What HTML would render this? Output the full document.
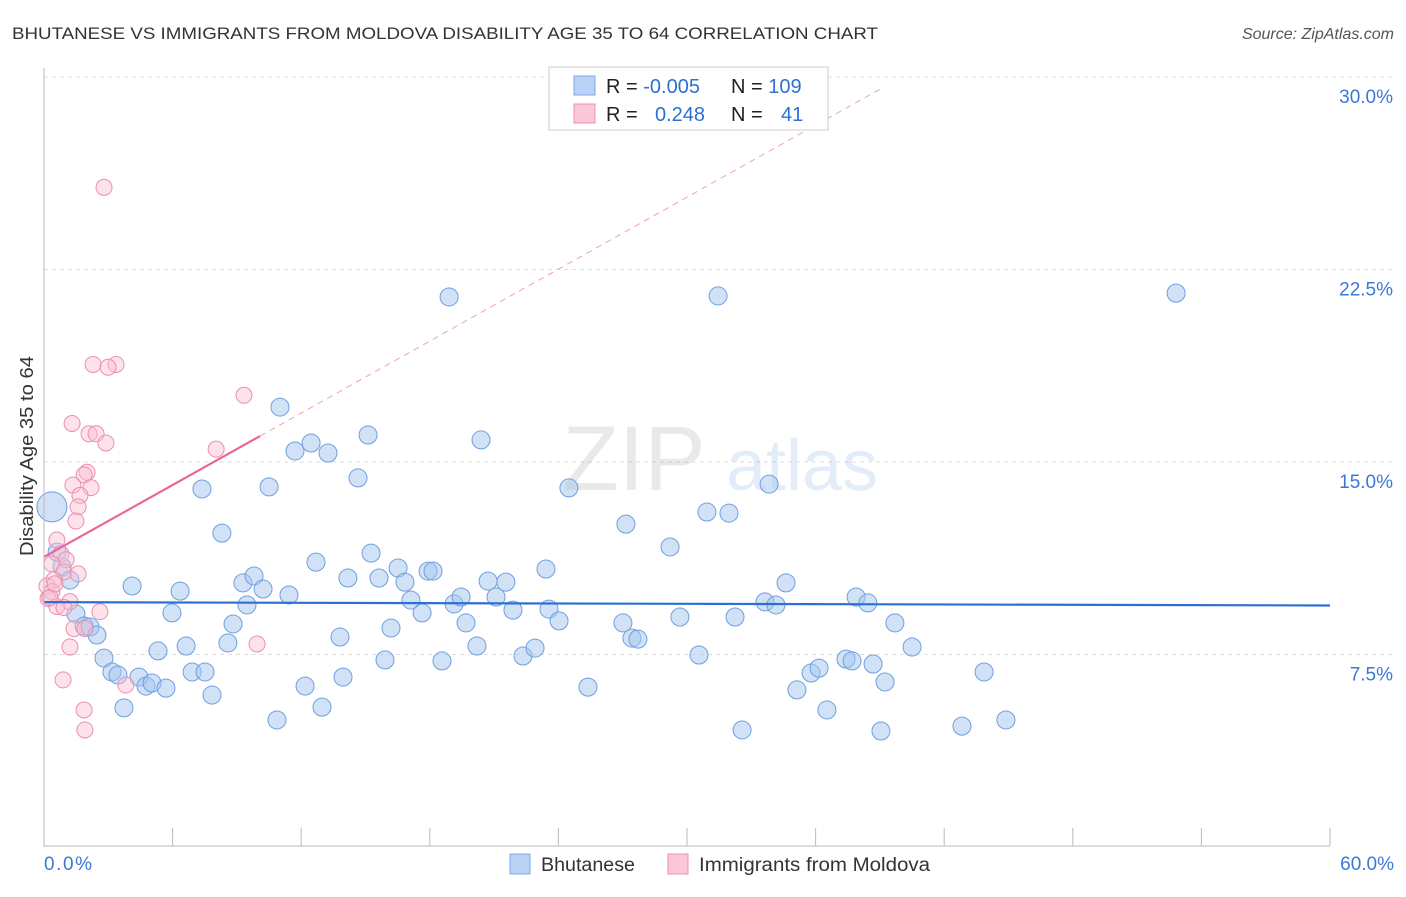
<!DOCTYPE html>
<html><head><meta charset="utf-8">
<style>
body{margin:0;background:#fff;font-family:"Liberation Sans",sans-serif;}
svg text{font-family:"Liberation Sans",sans-serif;}
</style></head>
<body>
<svg id="chart" width="1406" height="892" viewBox="0 0 1406 892" xmlns="http://www.w3.org/2000/svg">
<text x="12" y="39" font-size="17" fill="#333" textLength="866" lengthAdjust="spacingAndGlyphs">BHUTANESE VS IMMIGRANTS FROM MOLDOVA DISABILITY AGE 35 TO 64 CORRELATION CHART</text>
<text x="1394" y="39" font-size="16" fill="#555" font-style="italic" text-anchor="end">Source: ZipAtlas.com</text>
<g id="grid"></g>
<g opacity="0.18">
<text x="634" y="490" font-size="92" fill="#888" font-family="Liberation Serif" text-anchor="middle">ZIP</text>
<text x="802" y="490" font-size="72" fill="#6b9be0" text-anchor="middle">atlas</text>
</g>
<g id="marks"></g>
<g id="axes"></g>
<text transform="translate(33,456) rotate(-90)" font-size="18" fill="#333" text-anchor="middle" textLength="200" lengthAdjust="spacingAndGlyphs">Disability Age 35 to 64</text>
<g>
<rect x="549" y="67" width="279" height="63" fill="#fff" stroke="#ccc"/>
<rect x="574" y="76" width="21" height="19" fill="#b8d3f5" stroke="#7aaae8"/>
<rect x="574" y="104" width="21" height="19" fill="#fbc6d6" stroke="#ee92b0"/>
<text x="606" y="93" font-size="20" fill="#222">R = <tspan fill="#2f6fd1">-0.005</tspan><tspan x="731">N = </tspan><tspan fill="#2f6fd1">109</tspan></text>
<text x="606" y="121" font-size="20" fill="#222">R = <tspan x="655" fill="#2f6fd1">0.248</tspan><tspan x="731">N = </tspan><tspan x="781" fill="#2f6fd1">41</tspan></text>
</g>
<g>
<rect x="510" y="854" width="20" height="20" fill="#b8d3f5" stroke="#7aaae8"/>
<text x="541" y="871" font-size="19" fill="#333" textLength="94" lengthAdjust="spacingAndGlyphs">Bhutanese</text>
<rect x="668" y="854" width="20" height="20" fill="#fbc6d6" stroke="#ee92b0"/>
<text x="699" y="871" font-size="19" fill="#333" textLength="231" lengthAdjust="spacingAndGlyphs">Immigrants from Moldova</text>
</g>
</svg>
<script>
const xTicks=[6,12,18,24,30,36,42,48,54,60];
const yTicks=[7.5,15,22.5,30];
const yTickLabels=["7.5%","15.0%","22.5%","30.0%"];
const blueX=[0.37,0.61,0.84,1.21,1.49,1.87,2.15,2.47,2.80,3.17,3.45,3.73,4.11,4.43,4.76,5.04,5.32,5.69,5.97,6.35,6.63,6.91,7.37,7.51,7.84,8.30,8.58,8.82,9.28,9.47,9.80,10.22,10.50,10.87,11.01,11.43,11.71,12.18,12.46,12.69,12.97,13.25,13.81,13.95,14.18,14.65,15.12,15.26,15.63,15.91,16.19,16.52,16.84,17.12,17.64,17.92,18.15,18.57,18.90,19.13,19.46,19.69,20.20,20.39,20.72,21.09,21.55,21.88,22.35,22.91,23.42,23.56,24.03,24.49,25.38,27.01,27.15,27.43,27.71,29.21,29.67,30.56,30.93,31.45,31.96,32.24,32.57,33.64,33.83,34.15,34.62,35.13,35.79,36.16,36.53,37.42,37.70,37.89,38.44,38.68,39.05,39.24,39.70,40.50,42.83,43.86,44.88,52.82];
const blueY=[13.25,11.49,10.91,10.40,9.08,8.61,8.57,8.26,7.36,6.82,6.70,5.42,10.17,6.62,6.27,6.39,7.64,6.19,9.12,9.97,7.83,6.82,13.95,6.82,5.92,12.23,7.95,8.69,10.29,9.43,10.56,10.05,14.03,4.95,17.14,9.82,15.43,6.27,15.74,11.10,5.45,15.35,8.18,6.62,10.48,14.38,16.05,11.45,10.48,7.29,8.53,10.87,10.32,9.62,9.12,10.75,10.75,7.25,21.43,9.47,9.74,8.73,7.83,15.86,10.36,9.74,10.32,9.23,7.44,7.75,10.83,9.27,8.81,13.99,6.23,8.73,12.58,8.14,8.10,11.69,8.96,7.48,13.05,21.47,13.01,8.96,4.56,9.55,14.14,9.43,10.29,6.12,6.78,6.97,5.34,7.32,7.25,9.74,9.51,7.13,4.52,6.43,8.73,7.79,4.71,6.82,4.95,21.58];
const pinkX=[2.8,2.29,3.36,2.99,9.33,1.31,2.1,2.43,2.89,8.03,2.01,1.87,1.35,2.19,1.68,1.59,1.49,0.6,0.79,1.03,0.37,0.93,1.59,0.47,0.14,0.37,0.19,0.6,1.21,0.93,2.61,1.4,1.91,1.21,9.94,0.89,3.82,1.87,1.91,0.28,0.51];
const pinkY=[25.7,18.8,18.8,18.69,17.6,16.5,16.1,16.1,15.74,15.5,14.6,14.5,14.1,14.0,13.7,13.25,12.7,11.96,11.42,11.19,11.03,10.72,10.64,10.41,10.17,9.95,9.68,9.37,9.56,9.33,9.17,8.51,8.51,7.79,7.91,6.51,6.31,5.34,4.56,9.72,10.25];
const blueTrend=[9.54,9.41];
const pinkTrend=[11.3,16.01];
const pinkTrendEnd=[10.08];
const X0=44,X1=1330,Y0=847;
const sx=v=>X0+(X1-X0)*v/60;
const sy=v=>Y0-v*192.5/7.5;
const NS="http://www.w3.org/2000/svg";
function mk(parent,tag,attrs){const e=document.createElementNS(NS,tag);for(const k in attrs)e.setAttribute(k,attrs[k]);parent.appendChild(e);return e;}
const grid=document.getElementById('grid'),marks=document.getElementById('marks'),axes=document.getElementById('axes');
yTicks.forEach((t,i)=>{
 const l=mk(grid,'line',{x1:X0,x2:1395,y1:sy(t),y2:sy(t),stroke:'#ddd','stroke-dasharray':'4,4'});
 
 
 const tx=mk(axes,'text',{x:1393,y:sy(t)+26,'font-size':19,fill:'#3b78d8','text-anchor':'end'});
 tx.textContent=yTickLabels[i];
 
 
});
const ax=mk(axes,'line',{x1:X0,x2:X0,y1:68,y2:847,stroke:'#bbb'});


const bx=mk(axes,'line',{x1:X0,x2:X1,y1:846,y2:846,stroke:'#bbb'});


xTicks.forEach(t=>{
 const l=mk(axes,'line',{x1:sx(t),x2:sx(t),y1:828,y2:846,stroke:'#bbb'});
 
 
});
const xl0=mk(axes,'text',{x:44,y:870,'font-size':19,fill:'#3b78d8',textLength:48});xl0.textContent='0.0%';


const xl1=mk(axes,'text',{x:1394,y:870,'font-size':19,fill:'#3b78d8','text-anchor':'end'});xl1.textContent='60.0%';


blueX.forEach((v,i)=>{
 const c=mk(marks,'circle',{cx:sx(v),cy:sy(blueY[i]),r:i===0?15:9,fill:'rgba(164,198,240,0.5)',stroke:'#6e9fe0','stroke-width':1});
 
 
});
pinkX.forEach((v,i)=>{
 const c=mk(marks,'circle',{cx:sx(v),cy:sy(pinkY[i]),r:8,fill:'rgba(250,190,210,0.45)',stroke:'#ec8fae','stroke-width':1});
 
 
});
const slope=(pinkTrend[1]-pinkTrend[0])/pinkTrendEnd[0];
const pd=mk(marks,'line',{x1:sx(pinkTrendEnd[0]),y1:sy(pinkTrend[1]),x2:sx(39),y2:sy(pinkTrend[0]+slope*39),stroke:'#f0a0b8','stroke-width':1,'stroke-dasharray':'6,5'});


const pt=mk(marks,'line',{x1:sx(0),y1:sy(pinkTrend[0]),x2:sx(pinkTrendEnd[0]),y2:sy(pinkTrend[1]),stroke:'#e8679a','stroke-width':2.2});


const bt=mk(marks,'line',{x1:sx(0),y1:sy(blueTrend[0]),x2:sx(60),y2:sy(blueTrend[1]),stroke:'#2f6fd1','stroke-width':2.2});


</script>
</body></html>
